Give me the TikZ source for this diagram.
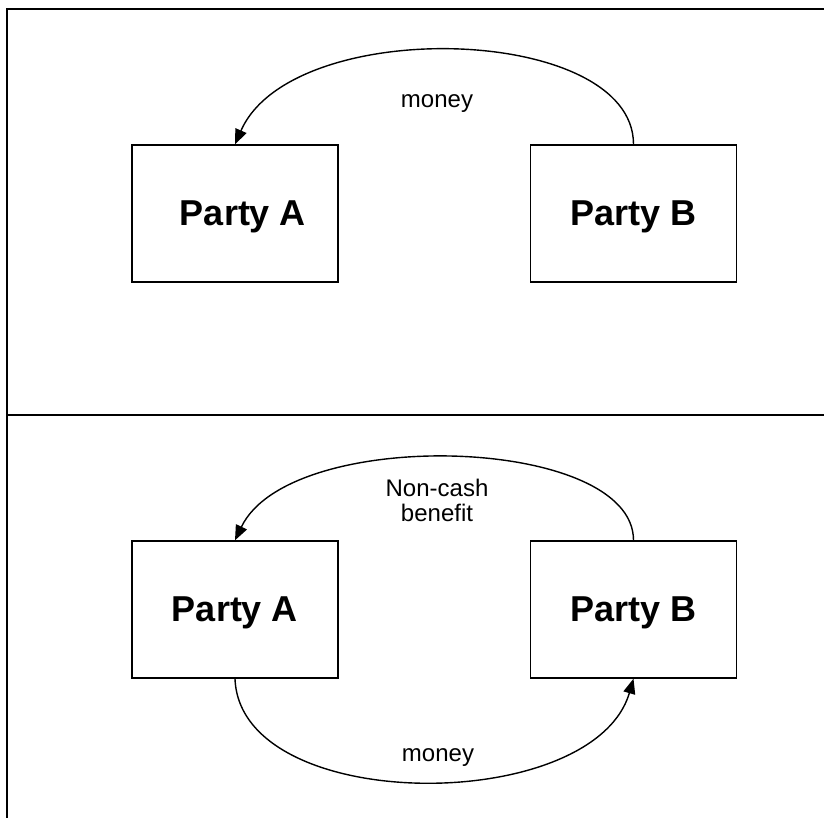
\documentclass[tikz,border=0pt]{standalone}
\usepackage{fontspec}
\setmainfont{Liberation Sans}
\usetikzlibrary{arrows.meta}

\tikzset{party/.style={draw,line width=1.4pt,minimum width=206pt,minimum height=137pt,inner sep=0pt,text depth=0pt,font=\fontsize{36}{40}\selectfont\bfseries},
flow/.style={line width=1.4pt,-{Triangle[length=15pt,width=12pt]}},
lbl/.style={font=\fontsize{24}{25}\selectfont,align=center}}

\begin{document}
\begin{tikzpicture}[x=1pt,y=-1pt]
\useasboundingbox (0,0) rectangle (824,818);
\draw[line width=1.6pt] (824,9) -- (7,9) -- (7,818);
\draw[line width=1.6pt] (7,415) -- (824,415);
% upper part
\node[party] (A1) at (235,213.5) {\hspace*{16pt}Party A};
\node[party] (B1) at (633.5,213.5) {Party B};
\node[lbl] (m1) at (437,104) {money};
\draw[flow] (B1.north) .. controls +(0,-120) and +(57,-130) .. (A1.north);
% lower part
\node[party] (A2) at (235,609.5) {Party A};
\node[party] (B2) at (633.5,609.5) {Party B};
\node[lbl] (n2) at (437,500) {Non-cash\\benefit};
\node[lbl] (m2) at (438,758) {money};
\draw[flow] (B2.north) .. controls +(0,-105) and +(55,-115) .. (A2.north);
\draw[flow] (A2.south) .. controls +(5,137) and +(-40,137) .. (B2.south);
\end{tikzpicture}
\end{document}
